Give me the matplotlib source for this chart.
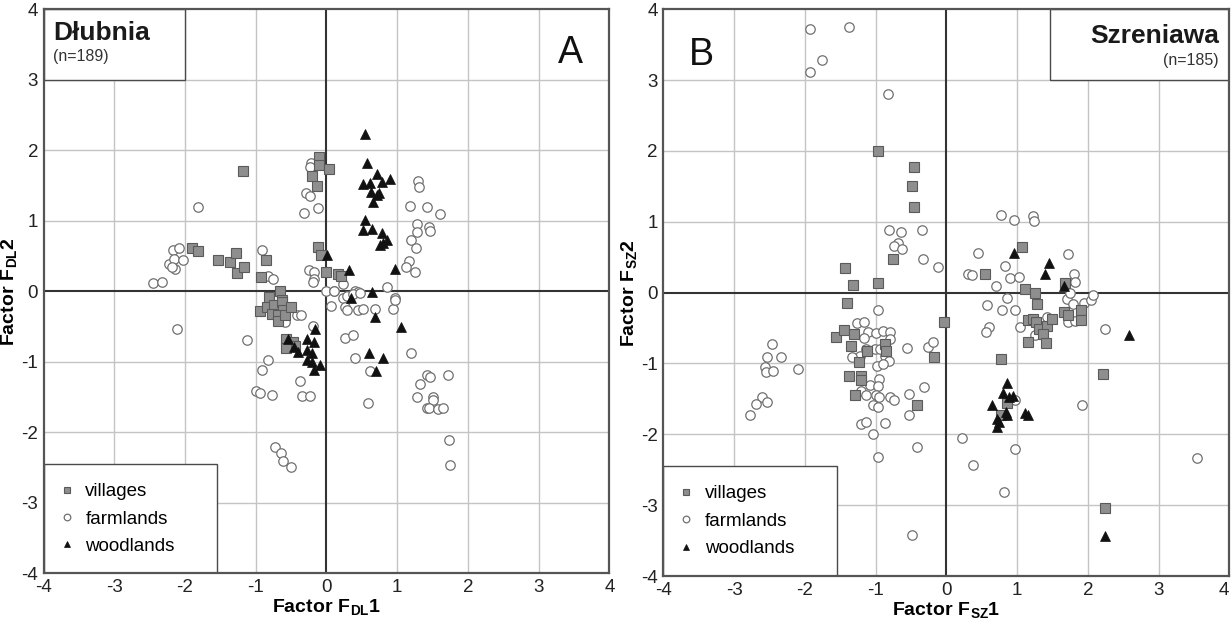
import matplotlib

matplotlib.use("Agg")
import matplotlib.pyplot as plt
from matplotlib.patches import Rectangle

plt.rcParams["font.family"] = ["Liberation Sans", "DejaVu Sans"]
plt.rcParams["mathtext.fontset"] = "custom"
plt.rcParams["mathtext.rm"] = "Liberation Sans"
plt.rcParams["mathtext.bf"] = "Liberation Sans:bold"
plt.rcParams["axes.unicode_minus"] = False

# --- Dłubnia (panel A) ---
dl_vil_x = [-1.18, -0.11, -0.11, -0.21, -0.14, 0.03, -1.90, -1.82, -1.53, -1.36, -1.28, -1.26,
            -1.16, -0.93, -0.85, -0.12, -0.08, 0.00, 0.16, 0.20, -0.66, -0.81, -0.63, -0.94,
            -0.84, -0.74, -0.77, -0.63, -0.61, -0.68, -0.68, -0.58, -0.50, -0.57, -0.47, -0.45, -0.57]
dl_vil_y = [1.70, 1.91, 1.79, 1.63, 1.50, 1.73, 0.61, 0.57, 0.44, 0.42, 0.55, 0.26,
            0.34, 0.20, 0.45, 0.63, 0.51, 0.28, 0.25, 0.22, 0.01, -0.08, -0.12, -0.28,
            -0.22, -0.20, -0.32, -0.15, -0.27, -0.34, -0.42, -0.34, -0.22, -0.67, -0.72, -0.77, -0.80]

dl_farm_x = [-1.81, -2.46, -2.33, -2.23, -2.17, -2.08, -2.16, -2.03, -2.14, -2.19, -0.91, -0.83,
             -0.76, -0.22, -0.23, -0.29, -0.23, -0.12, -0.32, -0.25, -0.18, -0.18, -0.19, 0.00,
             1.30, 1.31, 1.18, 1.42, 1.61, 1.28, 1.28, 1.45, 1.47, 1.20, 1.26, 1.16,
             1.12, 1.25, 0.86, 0.10, 0.24, 0.40, 0.45, 0.23, 0.97,
             -2.12, -1.13, -0.83, -0.91, -0.99, -0.94, -0.77, -0.38, -0.35, -0.23, -0.73, -0.65,
             -0.61, -0.50, -0.42, -0.36, -0.58, -0.19,
             0.11, 0.29, 0.38, 0.47, 0.06, 0.26, 0.29, 0.44, 0.51, 0.69, 0.94, 0.97,
             0.26, 0.38, 0.40, 0.62, 1.20, 0.59, 1.42, 1.47, 1.72, 1.32, 1.28, 1.50,
             1.51, 1.42, 1.45, 1.57, 1.65, 1.73, 1.74]
dl_farm_y = [1.19, 0.12, 0.13, 0.39, 0.58, 0.62, 0.46, 0.44, 0.32, 0.35, 0.59, 0.22,
             0.17, 1.82, 1.77, 1.40, 1.35, 1.18, 1.11, 0.30, 0.27, 0.18, 0.13, 0.01,
             1.57, 1.48, 1.21, 1.19, 1.09, 0.96, 0.84, 0.91, 0.85, 0.73, 0.62, 0.43,
             0.35, 0.28, 0.06, 0.01, 0.11, 0.00, -0.01, -0.09, -0.10,
             -0.53, -0.69, -0.98, -1.12, -1.42, -1.44, -1.47, -1.27, -1.48, -1.48, -2.21, -2.30,
             -2.41, -2.49, -0.34, -0.34, -0.43, -0.49,
             0.00, -0.06, -0.04, -0.02, -0.21, -0.22, -0.27, -0.27, -0.25, -0.25, -0.25, -0.13,
             -0.66, -0.62, -0.95, -1.13, -0.88, -1.58, -1.19, -1.21, -1.19, -1.32, -1.50, -1.50,
             -1.54, -1.65, -1.65, -1.67, -1.66, -2.11, -2.47]

dl_wood_x = [0.55, 0.58, 0.72, 0.90, 0.51, 0.62, 0.79, 0.63, 0.74, 0.72, 0.66, 0.55,
             0.51, 0.64, 0.79, 0.86, 0.76, 0.80, 0.01, 0.32, 0.97, 0.65, 0.34,
             -0.16, -0.27, -0.18, -0.46, -0.40, -0.28, -0.20, -0.27, -0.20, -0.09, -0.18, -0.54,
             0.69, 1.06, 0.60, 0.80, 0.70]
dl_wood_y = [2.23, 1.82, 1.67, 1.59, 1.52, 1.53, 1.55, 1.41, 1.40, 1.37, 1.26, 1.01,
             0.87, 0.89, 0.83, 0.73, 0.66, 0.68, 0.52, 0.30, 0.31, -0.01, -0.09,
             -0.53, -0.67, -0.72, -0.79, -0.86, -0.83, -0.88, -0.98, -1.00, -1.04, -1.12, -0.67,
             -0.37, -0.50, -0.87, -0.94, -1.13]

# --- Szreniawa (panel B) ---
sz_vil_x = [-0.96, -0.45, -0.49, -0.46, -0.75, -1.43, -1.32, -0.96,
            1.07, 0.54, 1.11, 1.26, 1.68,
            -1.41, -0.03, -1.56, -1.44, -1.30, -1.35, -1.23, -1.38, -1.20, -1.20, -1.29,
            -0.86, -0.85, -1.12, -0.18, -0.41,
            1.28, 1.16, 1.22, 1.27, 1.31, 1.43, 1.50, 1.37, 1.15, 1.41, 1.66, 1.72,
            1.90, 1.91, 0.78, 2.21, 0.86, 0.78, 2.25]
sz_vil_y = [2.00, 1.77, 1.50, 1.21, 0.48, 0.35, 0.11, 0.13,
            0.64, 0.27, 0.05, 0.00, 0.13,
            -0.14, -0.41, -0.63, -0.53, -0.59, -0.75, -0.98, -1.17, -1.17, -1.23, -1.45,
            -0.73, -0.83, -0.82, -0.91, -1.59,
            -0.16, -0.39, -0.37, -0.42, -0.52, -0.47, -0.37, -0.58, -0.70, -0.71, -0.27, -0.31,
            -0.25, -0.39, -0.94, -1.15, -1.56, -1.72, -3.04]

sz_farm_x = [-1.93, -1.38, -1.76, -1.92, -0.82, -0.81, -0.64, -0.35, -0.68, -0.74, -0.62, -0.33, -0.12,
             0.78, 0.96, 1.23, 1.24, 0.45, 0.83, 0.31, 0.37, 0.90, 1.03, 0.70, 1.72, 1.80, 1.82,
             -2.46, -2.53, -2.34, -2.56, -2.55, -2.45, -2.09, -2.60, -2.69, -2.54, -2.78,
             -0.97, -1.26, -1.16, -1.11, -1.16, -0.99, -0.90, -0.80, -0.80, -1.22, -1.33, -1.14,
             -1.01, -0.94, -0.87, -0.81, -0.98, -0.89, -0.95, -1.08, -0.96, -1.20, -1.13, -1.00,
             -0.95, -1.04, -0.96, -1.20, -1.13, -0.87, -1.04, -0.96, -0.79, -0.74, -0.56, -0.53,
             -0.53, -0.26, -0.19, -0.31, -0.42, -0.48,
             0.86, 0.57, 0.79, 0.97, 1.04, 1.25, 1.42, 0.61, 0.56, 1.71, 1.79, 1.94,
             2.05, 2.08, 1.72, 1.82, 2.25, 1.75, 0.97, 1.92, 0.22, 0.97, 0.38, 0.82, 3.55]
sz_farm_y = [3.72, 3.75, 3.29, 3.11, 2.81, 0.88, 0.86, 0.89, 0.70, 0.66, 0.61, 0.47, 0.36,
             1.10, 1.03, 1.08, 1.01, 0.56, 0.38, 0.27, 0.25, 0.20, 0.22, 0.10, 0.55, 0.26, 0.15,
             -0.73, -0.91, -0.91, -1.05, -1.12, -1.10, -1.08, -1.48, -1.57, -1.55, -1.73,
             -0.25, -0.43, -0.42, -0.55, -0.64, -0.57, -0.54, -0.55, -0.65, -0.89, -0.91, -0.80,
             -0.79, -0.79, -0.89, -0.96, -1.04, -1.01, -1.22, -1.31, -1.32, -1.39, -1.45, -1.44,
             -1.48, -1.59, -1.62, -1.85, -1.83, -1.84, -1.99, -2.32, -1.47, -1.52, -0.78, -1.43,
             -1.72, -0.77, -0.69, -1.33, -2.18, -3.42,
             -0.07, -0.17, -0.25, -0.24, -0.49, -0.60, -0.34, -0.49, -0.56, -0.09, -0.16, -0.15,
             -0.10, -0.03, -0.42, -0.40, -0.51, 0.00, -1.51, -1.59, -2.05, -2.21, -2.43, -2.81, -2.34]

sz_wood_x = [0.95, 1.45, 1.39, 1.66, 2.58, 0.86, 0.80, 0.89, 0.94, 0.65, 0.85, 0.86,
             1.11, 1.16, 0.72, 0.74, 0.72, 2.25]
sz_wood_y = [0.56, 0.42, 0.27, 0.10, -0.60, -1.28, -1.42, -1.47, -1.46, -1.59, -1.68, -1.72,
             -1.70, -1.72, -1.78, -1.83, -1.89, -3.43]

ticks = [-4, -3, -2, -1, 0, 1, 2, 3, 4]
legend_labels = ["villages", "farmlands", "woodlands"]

GRID = "#c4c4c4"
EDGE = "#4a4a4a"


def draw_panel(ax, vx, vy, fx, fy, wx, wy, sub):
    ax.set_xlim(-4, 4)
    ax.set_ylim(-4, 4)
    ax.set_xticks(ticks)
    ax.set_yticks(ticks)
    ax.tick_params(length=0, labelsize=13.5, pad=4, colors="#222222")
    for t in ticks[1:-1]:
        if t == 0:
            continue
        ax.axvline(t, color=GRID, lw=1.0, zorder=0)
        ax.axhline(t, color=GRID, lw=1.0, zorder=0)
    ax.axvline(0, color="#333333", lw=1.5, zorder=1)
    ax.axhline(0, color="#333333", lw=1.5, zorder=1)
    for s in ax.spines.values():
        s.set_color("#555555")
        s.set_linewidth(1.6)

    hf, = ax.plot(fx, fy, "o", ms=6.8, mfc="white", mec="#707070", mew=0.9, ls="none", zorder=3)
    hv, = ax.plot(vx, vy, "s", ms=7, mfc="#8e8e8e", mec="#5a5a5a", mew=0.8, ls="none", zorder=4)
    hw, = ax.plot(wx, wy, "^", ms=6.5, mfc="#111111", mec="#111111", mew=0.5, ls="none", zorder=5)

    ax.add_patch(Rectangle((-4, -4), 2.45, 1.55, facecolor="white", edgecolor=EDGE,
                           lw=1.0, zorder=2))
    ax.legend([hv, hf, hw], legend_labels, loc="upper left", frameon=False,
              bbox_to_anchor=(-3.86, -2.64), bbox_transform=ax.transData,
              fontsize=13.5, markerscale=0.7, handlelength=0.8, handletextpad=0.6,
              labelspacing=0.55, borderpad=0.3, borderaxespad=0)

    ax.set_xlabel(r"$\mathbf{Factor\ F_{%s}1}$" % sub, fontsize=14, labelpad=1)
    ax.set_ylabel(r"$\mathbf{Factor\ F_{%s}2}$" % sub, fontsize=14)
    ax.yaxis.set_label_coords(-0.043, 0.5)


fig = plt.figure(figsize=(12.32, 6.24), dpi=100)
ax1 = fig.add_axes([0.0354, 0.0813, 0.4592, 0.9038])
ax2 = fig.add_axes([0.5384, 0.0769, 0.4594, 0.9082])

draw_panel(ax1, dl_vil_x, dl_vil_y, dl_farm_x, dl_farm_y, dl_wood_x, dl_wood_y, "DL")
draw_panel(ax2, sz_vil_x, sz_vil_y, sz_farm_x, sz_farm_y, sz_wood_x, sz_wood_y, "SZ")

# last x tick of the right panel sits against the image edge
ax2.get_xticklabels()[-1].set_horizontalalignment("right")

# title boxes
ax1.add_patch(Rectangle((-4, 3), 2.0, 1.0, facecolor="white", edgecolor=EDGE, lw=1.0, zorder=2))
ax1.text(-3.87, 3.56, "Dłubnia", fontsize=19, fontweight="bold", color="#1a1a1a", zorder=6)
ax1.text(-3.87, 3.27, "(n=189)", fontsize=11.5, color="#333333", zorder=6)
ax1.text(3.45, 3.38, "A", fontsize=27, ha="center", va="center", color="#111111", zorder=6)

ax2.add_patch(Rectangle((1.46, 3), 2.54, 1.0, facecolor="white", edgecolor=EDGE, lw=1.0, zorder=2))
ax2.text(3.85, 3.52, "Szreniawa", fontsize=19, fontweight="bold", color="#1a1a1a",
         ha="right", zorder=6)
ax2.text(3.85, 3.21, "(n=185)", fontsize=11.5, color="#333333", ha="right", zorder=6)
ax2.text(-3.46, 3.36, "B", fontsize=27, ha="center", va="center", color="#111111", zorder=6)

fig.savefig("out.png", dpi=100)
